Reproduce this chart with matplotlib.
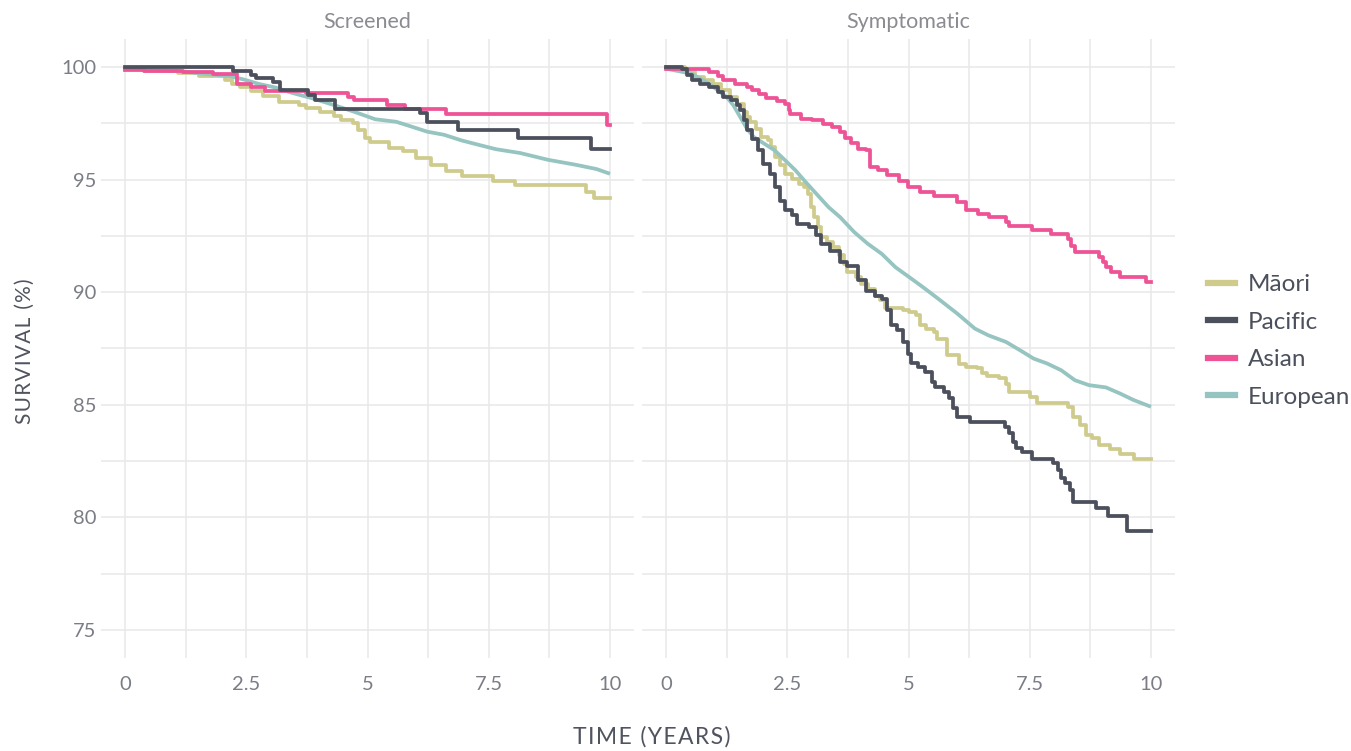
import matplotlib
matplotlib.use('Agg')

import matplotlib.pyplot as plt
from matplotlib.lines import Line2D
from matplotlib.ticker import MultipleLocator

plt.rcParams['font.family'] = ['Lato', 'DejaVu Sans']

# Survival curves (time in years, survival in %)
groups = ['Māori', 'Pacific', 'Asian', 'European']
colors = {'Māori': '#CFCB8C', 'Pacific': '#4B505C', 'Asian': '#EE5396', 'European': '#95C4C1'}
panels = ['Screened', 'Symptomatic']

scr_maori_t = [0, 0.39, 1.10, 1.53, 2.06, 2.21, 2.38, 2.60, 2.85, 3.17, 3.59, 3.74, 4.02, 4.31, 4.45,
               4.70, 4.80, 4.95, 5.05, 5.44, 5.73, 6.01, 6.30, 6.62, 6.94, 7.58, 8.04, 9.50, 9.68, 10]
scr_maori_s = [99.93, 99.82, 99.74, 99.59, 99.44, 99.26, 99.12, 98.94, 98.72, 98.46, 98.31, 98.16, 98.01,
               97.82, 97.65, 97.53, 97.21, 96.84, 96.65, 96.40, 96.25, 95.96, 95.66, 95.37, 95.15, 94.93,
               94.74, 94.44, 94.19, 94.19]

scr_pacific_t = [0, 2.23, 2.60, 2.70, 3.06, 3.20, 3.77, 3.91, 4.34, 6.09, 6.23, 6.87, 8.11, 9.61, 10]
scr_pacific_s = [100, 99.82, 99.63, 99.51, 99.34, 98.97, 98.75, 98.53, 98.12, 97.94, 97.57, 97.21, 96.84,
                 96.35, 96.35]

scr_asian_t = [0, 0.39, 1.20, 1.81, 2.31, 2.60, 2.88, 3.74, 4.59, 4.73, 5.41, 5.77, 6.62, 9.93, 10]
scr_asian_s = [99.88, 99.82, 99.76, 99.70, 99.26, 99.10, 98.94, 98.85, 98.68, 98.53, 98.31, 98.12, 97.90,
               97.43, 97.43]

scr_europ_t = [0, 1.10, 1.60, 2.17, 2.46, 2.74, 3.10, 3.45, 3.88, 4.31, 4.73, 5.16, 5.59, 5.87, 6.23,
               6.58, 6.94, 7.30, 7.65, 8.15, 8.72, 9.29, 9.72, 10]
scr_europ_s = [99.93, 99.82, 99.71, 99.59, 99.44, 99.26, 99.09, 98.85, 98.60, 98.31, 98.01, 97.68, 97.57,
               97.38, 97.13, 96.99, 96.74, 96.54, 96.35, 96.18, 95.88, 95.66, 95.47, 95.26]

sym_maori_t = [0, 0.39, 0.46, 0.60, 0.78, 0.96, 1.14, 1.32, 1.46, 1.60, 1.67, 1.74, 1.85, 1.96, 2.10,
               2.17, 2.24, 2.35, 2.46, 2.60, 2.74, 2.85, 2.92, 2.99, 3.06, 3.13, 3.20, 3.31, 3.45, 3.56,
               3.67, 3.74, 3.91, 4.02, 4.16, 4.31, 4.41, 4.52, 4.88, 5.02, 5.16, 5.23, 5.37, 5.52, 5.59,
               5.80, 6.05, 6.19, 6.41, 6.51, 6.62, 6.87, 7.01, 7.08, 7.51, 7.65, 8.29, 8.40, 8.54, 8.65,
               8.79, 8.93, 9.15, 9.36, 9.64, 10]
sym_maori_s = [100, 99.93, 99.78, 99.56, 99.41, 99.26, 98.96, 98.67, 98.37, 98.00, 97.78, 97.56, 97.26,
               96.89, 96.74, 96.44, 96.00, 95.63, 95.26, 95.04, 94.81, 94.67, 94.37, 93.78, 93.33, 92.89,
               92.44, 92.22, 92.00, 91.63, 91.26, 90.88, 90.66, 90.37, 90.15, 89.85, 89.63, 89.31, 89.19,
               89.12, 88.97, 88.53, 88.38, 88.23, 87.94, 87.20, 86.83, 86.68, 86.61, 86.39, 86.27, 86.17,
               85.94, 85.58, 85.35, 85.09, 84.91, 84.47, 84.10, 83.66, 83.51, 83.22, 83.02, 82.82, 82.58,
               82.58]

sym_pacific_t = [0, 0.32, 0.43, 0.53, 0.71, 0.89, 1.07, 1.17, 1.35, 1.46, 1.53, 1.60, 1.67, 1.78, 1.89,
                 1.99, 2.14, 2.24, 2.35, 2.46, 2.60, 2.70, 2.95, 3.10, 3.20, 3.38, 3.59, 3.74, 3.95, 4.13,
                 4.31, 4.45, 4.56, 4.63, 4.77, 4.88, 4.98, 5.05, 5.20, 5.34, 5.48, 5.55, 5.73, 5.84, 5.91,
                 6.01, 6.26, 6.98, 7.08, 7.15, 7.22, 7.33, 7.54, 7.97, 8.08, 8.15, 8.22, 8.33, 8.40, 8.86,
                 9.11, 9.50, 10]
sym_pacific_s = [100, 99.93, 99.63, 99.41, 99.26, 99.11, 98.89, 98.67, 98.52, 98.30, 98.07, 97.63, 97.19,
                 96.81, 96.30, 95.70, 95.26, 94.67, 94.07, 93.66, 93.41, 93.04, 92.89, 92.52, 92.15, 91.84,
                 91.33, 91.18, 90.52, 90.07, 89.85, 89.71, 89.19, 88.53, 88.30, 87.79, 87.27, 86.86, 86.68,
                 86.46, 86.02, 85.77, 85.58, 85.28, 84.84, 84.47, 84.25, 84.03, 83.73, 83.36, 83.07, 82.88,
                 82.58, 82.40, 82.11, 81.74, 81.52, 81.22, 80.66, 80.41, 80.07, 79.38, 79.38]

sym_asian_t = [0, 0.89, 1.07, 1.17, 1.42, 1.67, 1.78, 1.92, 2.06, 2.28, 2.46, 2.53, 2.56, 2.78, 3.02,
               3.24, 3.42, 3.59, 3.70, 3.81, 3.95, 4.13, 4.20, 4.38, 4.56, 4.80, 4.98, 5.23, 5.52, 6.01,
               6.19, 6.44, 6.65, 7.01, 7.08, 7.54, 7.94, 8.29, 8.36, 8.43, 8.93, 9.00, 9.07, 9.18, 9.36,
               9.89, 10]
sym_asian_s = [99.93, 99.78, 99.59, 99.41, 99.26, 99.11, 98.96, 98.81, 98.64, 98.49, 98.34, 98.07, 97.90,
               97.70, 97.63, 97.48, 97.33, 97.11, 96.86, 96.62, 96.37, 96.30, 95.56, 95.41, 95.19, 94.96,
               94.67, 94.44, 94.25, 94.00, 93.63, 93.48, 93.33, 93.11, 92.96, 92.77, 92.59, 92.37, 92.07,
               91.78, 91.56, 91.33, 91.14, 90.89, 90.67, 90.44, 90.44]

sym_europ_t = [0, 0.53, 0.89, 1.25, 1.39, 1.53, 1.67, 1.81, 2.03, 2.24, 2.46, 2.67, 2.88, 3.10, 3.35,
               3.59, 3.88, 4.16, 4.45, 4.73, 5.02, 5.30, 5.66, 6.01, 6.37, 6.65, 7.01, 7.30, 7.58, 7.86,
               8.15, 8.43, 8.72, 9.07, 9.36, 9.64, 10]
sym_europ_s = [99.93, 99.70, 99.26, 98.67, 98.30, 97.78, 97.26, 96.89, 96.59, 96.30, 95.85, 95.41, 94.89,
               94.37, 93.78, 93.33, 92.67, 92.15, 91.70, 91.11, 90.66, 90.22, 89.63, 89.04, 88.38, 88.08,
               87.79, 87.42, 87.05, 86.83, 86.53, 86.09, 85.87, 85.77, 85.50, 85.21, 84.91]

curves = {
    'Screened': {'Māori': (scr_maori_t, scr_maori_s), 'Pacific': (scr_pacific_t, scr_pacific_s),
                 'Asian': (scr_asian_t, scr_asian_s), 'European': (scr_europ_t, scr_europ_s)},
    'Symptomatic': {'Māori': (sym_maori_t, sym_maori_s), 'Pacific': (sym_pacific_t, sym_pacific_s),
                    'Asian': (sym_asian_t, sym_asian_s), 'European': (sym_europ_t, sym_europ_s)},
}
draw_order = ['Māori', 'European', 'Asian', 'Pacific']


def spaced(text):
    # rough letter-spacing with hair spaces, like the reference axis titles
    return '\u200a'.join(text)


W, H = 1351, 751
fig = plt.figure(figsize=(W / 100, H / 100), dpi=100, facecolor='white')

grid_col = '#E8E8E8'
panel_left = [100.75, 641.75]
for i, panel in enumerate(panels):
    ax = fig.add_axes([panel_left[i] / W, 1 - 658 / H, 533.5 / W, 619.1 / H])
    for g in draw_order:
        t, s = curves[panel][g]
        if g == 'European':
            ax.plot(t, s, color=colors[g], lw=2.7, solid_capstyle='butt')
        else:
            ax.step(t, s, where='post', color=colors[g], lw=2.7)
    ax.set_xlim(-0.5, 10.5)
    ax.set_ylim(73.75, 101.25)
    ax.xaxis.set_major_locator(MultipleLocator(2.5))
    ax.xaxis.set_minor_locator(MultipleLocator(1.25))
    ax.yaxis.set_major_locator(MultipleLocator(5))
    ax.yaxis.set_minor_locator(MultipleLocator(2.5))
    ax.set_xticks([0, 2.5, 5, 7.5, 10])
    ax.set_xticklabels(['0', '2.5', '5', '7.5', '10'])
    ax.grid(True, which='both', color=grid_col, lw=1.1)
    ax.set_axisbelow(True)
    for sp in ax.spines.values():
        sp.set_visible(False)
    ax.tick_params(which='both', length=0, labelsize=14.5, colors='#7A7D85')
    ax.tick_params(axis='x', pad=13)
    ax.tick_params(axis='y', pad=3)
    if i == 1:
        ax.tick_params(axis='y', labelleft=False)
    ax.set_title(panel, fontsize=15.5, color='#8A8C92', pad=8)

fig.text(25 / W, 1 - 351 / H, spaced('SURVIVAL (%)'), rotation=90, ha='center', va='center',
         fontsize=15, color='#50545E')
fig.text(652 / W, 1 - 737 / H, spaced('TIME (YEARS)'), ha='center', va='center',
         fontsize=16.5, color='#50545E')

handles = [Line2D([], [], color=colors[g], lw=4.5) for g in groups]
fig.legend(handles, groups, loc='center left', bbox_to_anchor=(1186 / W, 1 - 341 / H),
           frameon=False, fontsize=17.5, handlelength=1.1, handletextpad=0.55,
           labelspacing=0.68, labelcolor='#4B505C')

fig.savefig('out.png', dpi=100, facecolor='white')
plt.close(fig)
